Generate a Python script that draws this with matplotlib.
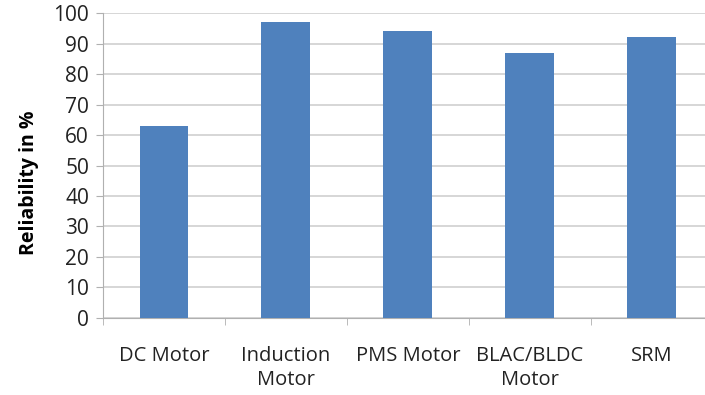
import numpy as np
import matplotlib.pyplot as plt

categories = ['DC Motor', 'Induction\nMotor', 'PMS Motor', 'BLAC/BLDC\nMotor', 'SRM']
reliability = [63, 97, 94, 87, 92]
yticks = [0, 10, 20, 30, 40, 50, 60, 70, 80, 90, 100]

plt.rcParams['font.family'] = ['Open Sans', 'DejaVu Sans']

fig = plt.figure(figsize=(7.05, 3.95), dpi=100)
ax = fig.add_axes([0.146, 0.195, 0.865, 0.772])

x = np.arange(len(categories))
ax.bar(x, reliability, width=0.4, color='#4F81BD', zorder=3)

ax.set_xlim(-0.5, len(categories) - 0.5)
ax.set_ylim(0, 100)
ax.set_yticks(yticks)
ax.yaxis.grid(True, color='#d0d0d0', linewidth=1.2, zorder=0)

ax.set_xticks(x)
ax.set_xticklabels(categories, fontsize=14.5, color='#222222', linespacing=1.3)
ax.set_xticks(np.arange(len(categories) + 1) - 0.5, minor=True)
ax.tick_params(axis='x', which='major', length=0, pad=20)
ax.tick_params(axis='x', which='minor', length=5, color='#b0b0b0')
ax.tick_params(axis='y', length=5, color='#b0b0b0', labelsize=15, labelcolor='#222222', pad=5)

for s in ['top', 'right']:
    ax.spines[s].set_visible(False)
ax.spines['left'].set_color('#b0b0b0')
ax.spines['bottom'].set_color('#b0b0b0')

ax.set_ylabel('Reliability in %', fontsize=14, fontweight='bold', labelpad=10)
ax.yaxis.label.set_y(0.445)

fig.savefig('out.png')
